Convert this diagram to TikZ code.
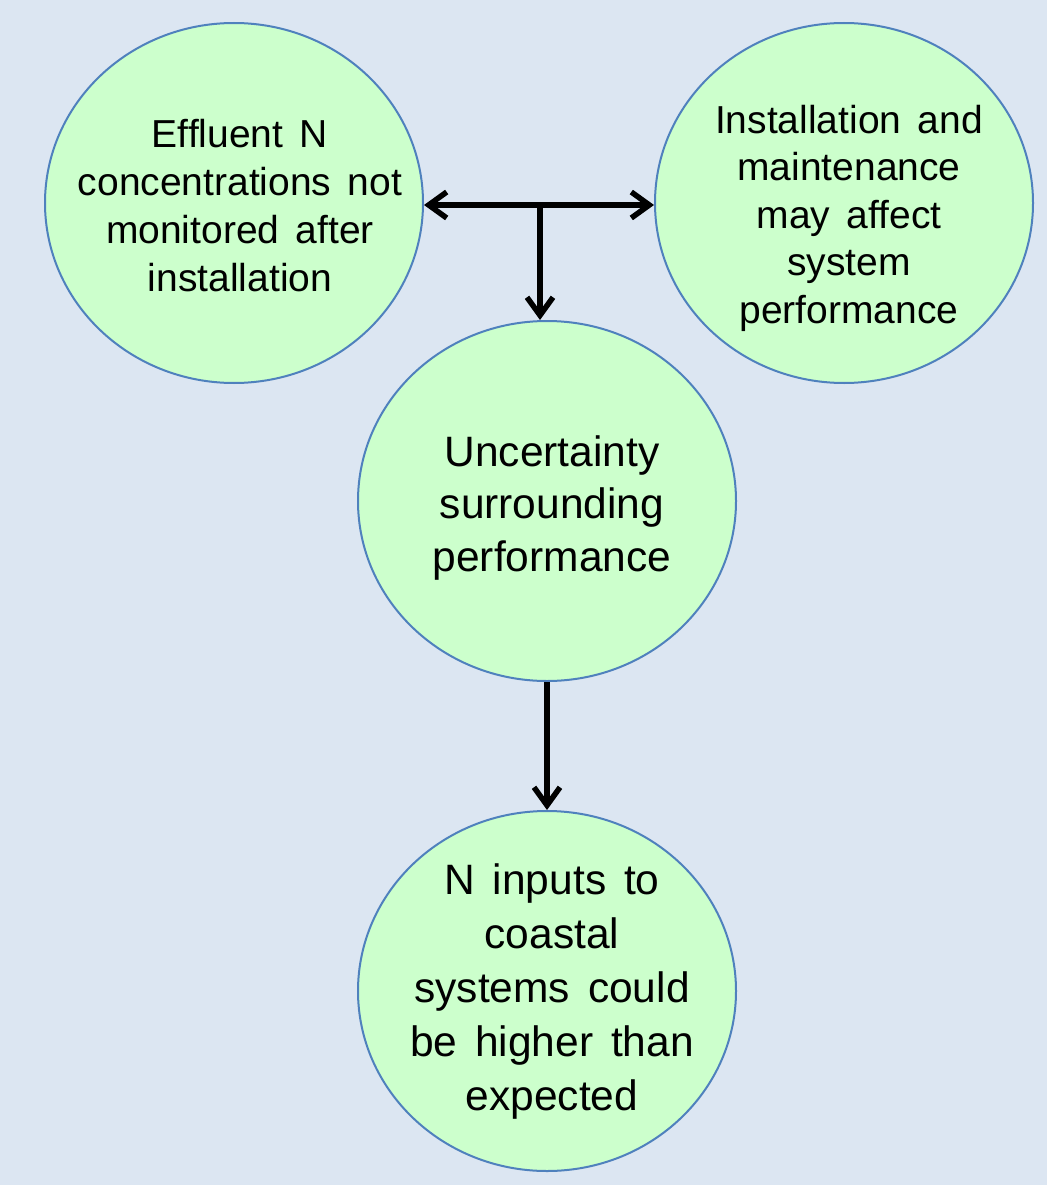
\documentclass[tikz,border=0pt]{standalone}
\usepackage{fontspec}
\setmainfont{Liberation Sans}
\usetikzlibrary{shapes.geometric,arrows.meta}
\definecolor{bgblue}{HTML}{DCE6F2}
\definecolor{bubblefill}{HTML}{CCFFCC}
\definecolor{bubbleline}{HTML}{4F81BD}
% slightly wider word spacing in the bubble texts
\newcommand\bubblefont[2]{\fontsize{#1}{#2}\selectfont\spaceskip=0.42em\relax}
\begin{document}
\begin{tikzpicture}[x=1pt,y=-1pt,
  bubble/.style={ellipse, draw=bubbleline, line width=2pt, fill=bubblefill,
    minimum width=378pt, minimum height=360pt, inner sep=0pt},
  txt/.style={align=center, inner sep=0pt},
  conn/.style={line width=5.5pt, -{Straight Barb[length=18pt,width=26pt,line width=5.5pt]}},
  conn2/.style={line width=5.5pt, {Straight Barb[length=18pt,width=26pt,line width=5.5pt]}-{Straight Barb[length=18pt,width=26pt,line width=5.5pt]}}
]
  % page background
  \fill[bgblue] (0,0) rectangle (1047,1185);
  \useasboundingbox (0,0) rectangle (1047,1185);

  \node[bubble] (e1) at (234,203) {};
  \node[bubble] (e2) at (844,203) {};
  \node[bubble] (e3) at (547,501) {};
  \node[bubble] (e4) at (547,991) {};

  \node[txt, font={\bubblefont{39}{48}}] (t1) at ([xshift=6pt,yshift=-3pt]e1.center)
    {Effluent N\\concentrations not\\monitored after\\installation};
  \node[txt, font={\bubblefont{39}{47.5}}] (t2) at ([xshift=5pt,yshift=-15pt]e2.center)
    {Installation and\\maintenance\\may affect\\system\\performance};
  \node[txt, font={\bubblefont{42.5}{52.5}}] (t3) at ([xshift=5pt,yshift=-7pt]e3.center)
    {Uncertainty\\surrounding\\performance};
  \node[txt, font={\bubblefont{42.5}{54}}] (t4) at ([xshift=5pt]e4.center)
    {N inputs to\\coastal\\systems could\\be higher than\\expected};

  % junction between the two top bubbles
  \coordinate (j) at (540,205);
  \draw[conn2] (j -| e1.east) -- (j -| e2.west);
  \draw[conn] (j) -- (j |- e3.north);
  \draw[conn] (e3.south) -- (e4.north);
\end{tikzpicture}
\end{document}
